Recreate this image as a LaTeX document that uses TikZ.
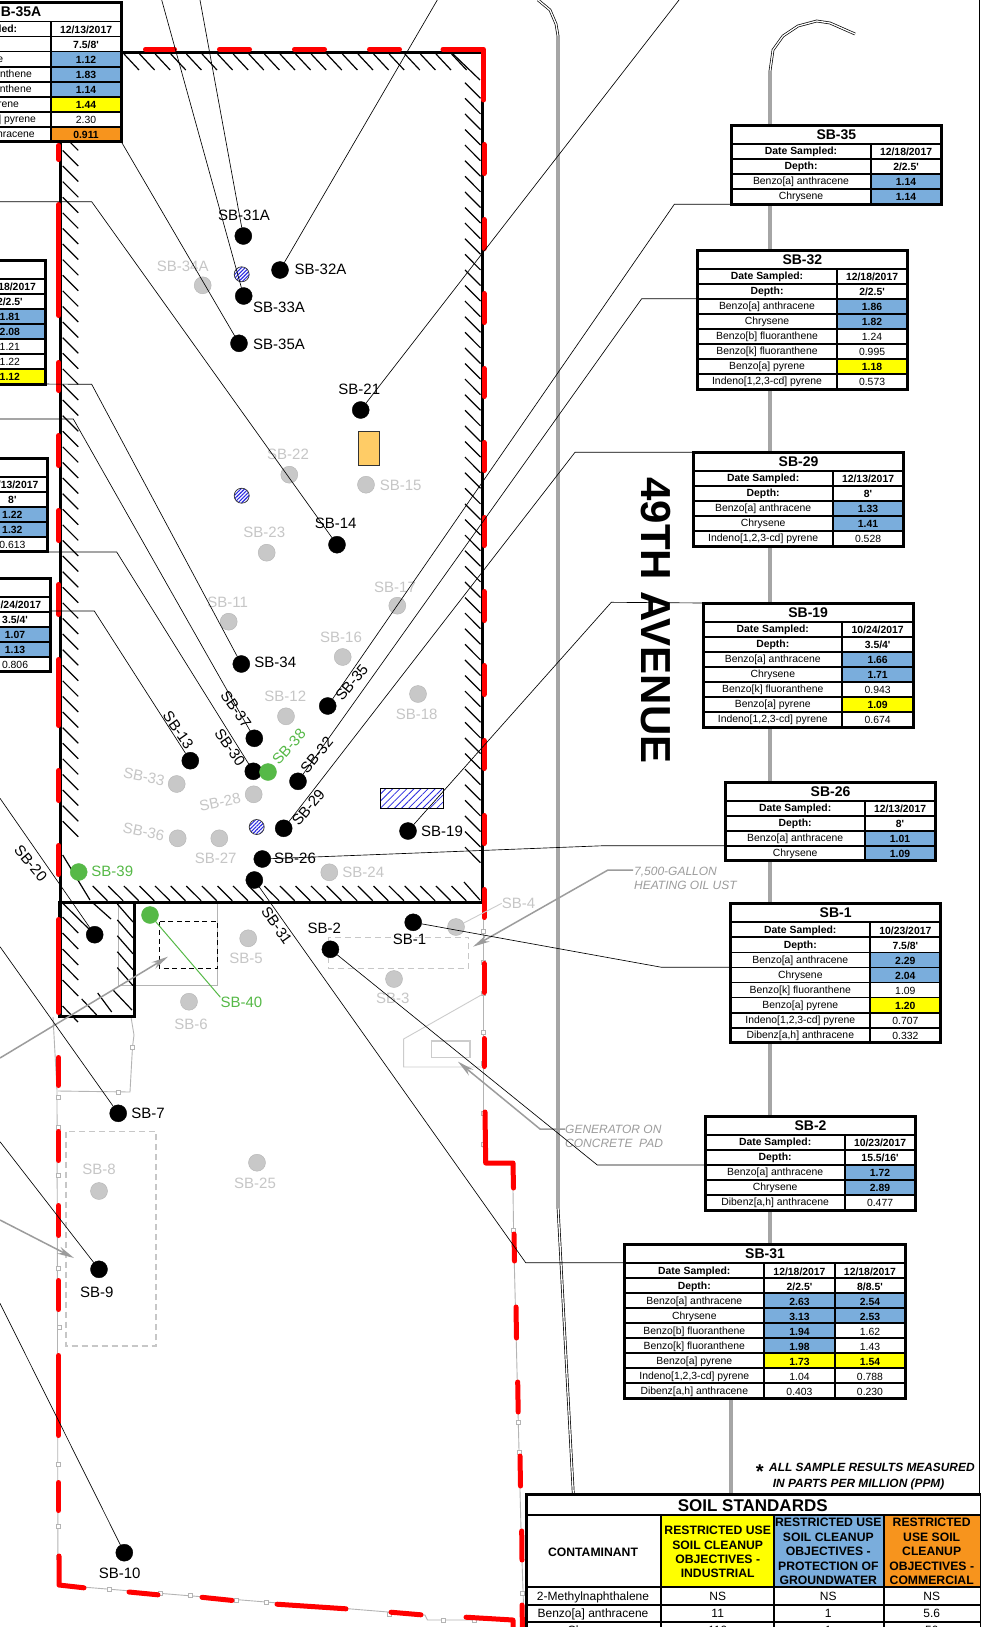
\documentclass[tikz,border=0pt]{standalone}
\usepackage{fontspec}
\setmainfont{Liberation Sans}[Ligatures=TeXOff]
\usetikzlibrary{arrows.meta,patterns.meta}
\definecolor{celld}{HTML}{FFFFFF}
\definecolor{celln}{HTML}{FFFFFF}
\definecolor{cellb}{HTML}{7AADDC}
\definecolor{celly}{HTML}{FFFF00}
\definecolor{cello}{HTML}{F7941D}
\definecolor{dotgray}{HTML}{C8C8C8}
\definecolor{txtgray}{HTML}{C6C6C6}
\definecolor{dotgreen}{HTML}{56B947}
\definecolor{notegray}{HTML}{9C9C9C}
\definecolor{fence}{HTML}{B4B4B4}
\definecolor{hatchblue}{HTML}{2A2AE0}
\definecolor{padfill}{HTML}{FFCC66}
\newcommand\ftab{\fontsize{10.4}{12}\selectfont}
\newcommand\tlabfd{\ftab\bfseries}
\newcommand\tlabfb{\ftab}
\newcommand\tlabfy{\ftab}
\newcommand\tlabfo{\ftab}
\newcommand\tlabfn{\ftab}
\newcommand\tvalfd{\ftab\bfseries}
\newcommand\tvalfb{\ftab\bfseries}
\newcommand\tvalfy{\ftab\bfseries}
\newcommand\tvalfo{\ftab\bfseries}
\newcommand\tvalfn{\ftab}
\newcommand\dsmp{Date Sampled:}
\newcommand\dpth{Depth:}
\newcommand\lBaA{Benzo[a] anthracene}
\newcommand\lChr{Chrysene}
\newcommand\lBbF{Benzo[b] fluoranthene}
\newcommand\lBkF{Benzo[k] fluoranthene}
\newcommand\lBaP{Benzo[a] pyrene}
\newcommand\lInd{Indeno[1,2,3-cd] pyrene}
\newcommand\lDib{Dibenz[a,h] anthracene}
\tikzset{
  x=1pt,y=-1pt,
  grid/.style={line width=1.8,black},
  tabframe/.style={draw=black,line width=3,rectangle,inner sep=0,outer sep=0,anchor=north west},
  celltext/.style={inner sep=0,anchor=base},
  blk/.style={circle,fill=black,draw=black,line width=.4,minimum size=17,inner sep=0,outer sep=0},
  gry/.style={circle,fill=dotgray,draw=fence,line width=.4,minimum size=17,inner sep=0,outer sep=0},
  grn/.style={circle,fill=dotgreen,draw=dotgreen,line width=.4,minimum size=17,inner sep=0,outer sep=0},
  blktxt/.style={text=black,inner sep=0,font=\fontsize{15}{17}\selectfont},
  grytxt/.style={text=txtgray,inner sep=0,font=\fontsize{15}{17}\selectfont},
  grntxt/.style={text=dotgreen,inner sep=0,font=\fontsize{15}{17}\selectfont},
  hatchdot/.style={circle,draw=black!80,line width=.7,minimum size=15,inner sep=0,outer sep=0,
    pattern={Lines[angle=45,distance=2.6,line width=1.1]},pattern color=hatchblue},
  leader/.style={draw=black,line width=.65},
  htick/.style={draw=black,line width=1.2},
  wall/.style={draw=black,line width=3.4},
  redd/.style={draw=red,line width=5,line cap=round,line join=round},
  fenceline/.style={draw=fence,line width=.9},
  fsq/.style={draw=fence,fill=white,line width=.8},
  ghostbox/.style={draw=black!22,line width=1.5,dash pattern=on 6 off 4},
  road/.style={draw=black,line width=.7,double=white,double distance=1.3},
  notearrow/.style={draw=notegray,line width=1.5,-{Stealth[length=17,width=7.5,fill=notegray]}},
  notetext/.style={text=notegray,inner sep=0,anchor=base west,font=\fontsize{12}{14}\selectfont\itshape},
  soilhead/.style={inner sep=0,align=center,font=\fontsize{12.2}{14.4}\selectfont\bfseries},
  soilcell/.style={inner sep=0,anchor=base,font=\fontsize{12}{14}\selectfont},
  ppmnote/.style={inner sep=0,anchor=base west,font=\fontsize{11.9}{14}\selectfont\bfseries\itshape},
}
\newcommand\sbtable[7]{%
  \pgfmathsetmacro\tL{#2+1.3}\pgfmathsetmacro\tR{#4-1.3}\pgfmathsetmacro\tT{#3+1.3}%
  \pgfmathsetmacro\tD{\tR-70.7}\pgfmathsetmacro\tM{(\tL+\tD)/2}%
  \pgfmathsetmacro\tV{(\tD+\tR)/2}\pgfmathsetmacro\tC{(\tL+\tR)/2}%
  \pgfmathsetmacro\tB{\tT+18.7+15.05*#5}\pgfmathsetmacro\tW{\tR-\tL}\pgfmathsetmacro\tH{\tB-\tT}%
  \fill[white] (\tL,\tT) rectangle (\tR,\tB);
  \node[celltext,font=\fontsize{14}{16}\selectfont\bfseries] (#1-title) at (\tC,\tT+14.2) {#6};
  \foreach \lab/\val/\kind [count=\i] in {#7} {
    \pgfmathsetmacro\ya{\tT+18.7+15.05*(\i-1)}\pgfmathsetmacro\yb{\ya+15.05}
    \path[fill=cell\kind] (\tD,\ya) rectangle (\tR,\yb);
    \draw[grid] (\tL,\ya) -- (\tR,\ya);
    \draw[grid] (\tL,\yb) -- (\tR,\yb);
    \node[celltext,font=\csname tlabf\kind\endcsname] (#1-l\i) at (\tM,\yb-4.3) {\lab};
    \node[celltext,font=\csname tvalf\kind\endcsname] (#1-v\i) at (\tV,\yb-3.3) {\val};
  }
  \draw[grid] (\tD,\tT+18.7) -- (\tD,\tB);
  \node[tabframe,minimum width=\tW,minimum height=\tH] (#1) at (\tL,\tT) {};
}
\newcommand\hole[8]{\node[#1] (#2) at (#3,#4) {};\node[#1txt,rotate=#7] (#2-l) at (#5,#6) {#8};}
\newcommand\fsqat[2]{\draw[fsq] (#1-2,#2-2) rectangle (#1+2,#2+2);}
\begin{document}
\begin{tikzpicture}
\useasboundingbox (0,0) rectangle (980,1627);
\fill[white] (0,0) rectangle (980,1627);
% page frame and roads
\draw[draw=black,line width=.6] (979,0) -- (979,1494);
\draw[road] (538,0) -- (550,10) -- (556,24) -- (558,36) -- (558,1207) -- (573.3,1494);
\draw[road] (855,34) -- (830,23) -- (816.7,21) -- (798,26) -- (783,36) -- (773,50) -- (770,71) -- (770,1243) -- (731,1399) -- (731,1494);
% fence
\draw[fenceline] (53,1017) -- (57,1090) -- (58,1585) -- (425,1615) -- (427.5,1620) -- (513,1620);
\draw[fenceline] (58,1091) -- (130,1092) -- (132.5,1047) -- (134,1035) -- (131,1017);
\draw[fenceline] (483.5,887) -- (483.5,1163);
\draw[fenceline] (513,1190) -- (513.6,1233) -- (514.3,1263) -- (521,1530) -- (524,1620);
\foreach \px/\py in {58/1097,58/1127,58/1175,58/1268,59/1327,58/1464,58/1526,58/1557,132.5/1047,118/1092,
  109/1589,160/1593,190/1595,236/1600,266/1602.5,389.3/1614,443/1620,474/1620,
  483.5/931,483.5/962,483.5/993,483.5/1032,483.5/1063,483.5/1113,483.5/1144,513.6/1230,518.7/1422,519.3/1452,522.7/1593}
  {\fsqat{\px}{\py}}
% ghost structures
\draw[ghostbox] (328.6,937.3) rectangle (468.6,968.3);
\draw[ghostbox] (66,1131.7) rectangle (156,1346);
\draw[draw=black!20,line width=.9] (483,994) -- (403.6,1039) -- (403.6,1067) -- (483,1067);
\draw[draw=black!20,line width=1.2] (431.4,1041) rectangle (470,1057.7);
\draw[fenceline] (118,903) -- (118,985) -- (217,985) -- (217,903);
\draw[draw=black,line width=1.4,dash pattern=on 5 off 3.5] (159.3,921.7) rectangle (217.3,968.3);
% building hatch
\foreach \k in {0,...,21} \draw[htick] (124+15.6*\k,54) -- (139+15.6*\k,70);
\draw[htick] (453,54) -- (480,80);
\foreach \k in {0,...,49} \draw[htick] (465,82.7+15.6*\k) -- (480.5,98.3+15.6*\k);
\foreach \k in {-6,...,38} \draw[htick] (62.7,244+15.6*\k-15.6) -- (78.3,244+15.6*\k);
\draw[htick] (62.7,855) -- (90,900);
\foreach \k in {0,...,23} \draw[htick] (92.7+15.6*\k,886) -- (107.5+15.6*\k,900.7);
\draw[htick] (464,882) -- (480,900);
\foreach \py in {933,949,965,980,996} \draw[htick] (62.5,\py-16) -- (78.3,\py);
\draw[htick] (62.5,1006) -- (78,1022);
\draw[htick] (62.5,903) -- (90,930);
\draw[htick] (93,903) -- (111,919);
\foreach \k in {0,...,4} \draw[htick] (117.3,904+15.9*\k) -- (133,922+15.9*\k);
\draw[htick] (113,990) -- (132,1010);
\draw[htick] (97.7,993) -- (111.7,1012);
\draw[htick] (81.7,999) -- (96.7,1015);
\draw[wall] (60.5,52.3) rectangle (482.3,902.3);
\draw[wall] (60,902.3) rectangle (134.3,1016.7);
% red site boundary
\foreach \a/\b in {143/177,217/252,292/327,367/402} \draw[redd] (\a+2.5,49.3) -- (\b-2.5,49.3);
\draw[redd] (443,49.3) -- (483.5,49.3) -- (483.5,100);
\foreach \a/\b in {142/176,217/251,291/325,366/399,440/473,515/548,589/623,663/697,738/771,813/846,887/920,961/995,1036/1069}
  \draw[redd] (484,\a+2.5) -- (484,\b-2.5);
\draw[redd] (485,1112) -- (485.7,1163) -- (513,1163) -- (513.5,1188);
\draw[redd] (514,1234) -- (514.5,1261);
\draw[redd] (516,1307) -- (516.5,1338);
\draw[redd] (517.7,1382) -- (518.2,1412);
\draw[redd] (520,1456) -- (520.5,1486);
\draw[redd] (521.7,1531) -- (522,1560);
\draw[redd] (522,1605) -- (522.5,1630);
\foreach \a/\b in {143/162,202/318,360/393,433/468,508/543,582/617,657/728,768/803,843/877,917/1015}
  \draw[redd] (58.8,\a+2.5) -- (58.8,\b-2.5);
\foreach \a/\b in {1055/1088,1129/1163,1203/1238,1278/1312,1353/1438,1480/1513}
  \draw[redd] (58.5,\a+2.5) -- (58.5,\b-2.5);
\draw[redd] (59,1556) -- (59,1585) -- (84,1587.8);
\draw[redd] (129,1592) -- (158,1594.8);
\draw[redd] (202,1597.3) -- (232,1600.4);
\draw[redd] (277,1604.2) -- (346,1608.8);
\draw[redd] (391,1612.2) -- (421,1614.8);
\draw[redd] (466,1617.2) -- (513,1620) -- (513,1630);
% site features
\node[draw=black!80,line width=1,fill=padfill,minimum width=20.7,minimum height=34,inner sep=0] (pad) at (368.7,448) {};
\node[draw=black,line width=1,minimum width=63.3,minimum height=19.7,inner sep=0,
  pattern={Lines[angle=45,distance=5,line width=.8]},pattern color=hatchblue] (hatchrect) at (411.7,798.2) {};
\node[hatchdot] (hd1) at (241.7,274.3) {};
\node[hatchdot] (hd2) at (241.7,495.7) {};
\node[hatchdot] (hd3) at (256.7,827) {};
% gray borings
\hole{gry}{sb34a}{202.7}{285.3}{182.7}{266.7}{0}{SB-34A}
\hole{gry}{sb22}{289.3}{474.7}{288}{454.3}{0}{SB-22}
\hole{gry}{sb15}{366}{484.7}{400.7}{485.3}{0}{SB-15}
\hole{gry}{sb23}{266.7}{552.7}{264.3}{532.7}{0}{SB-23}
\hole{gry}{sb11}{228.7}{621.7}{227.7}{602.7}{0}{SB-11}
\hole{gry}{sb17}{397.3}{605.7}{395}{587.7}{0}{SB-17}
\hole{gry}{sb16}{342.7}{657}{341}{637.3}{0}{SB-16}
\hole{gry}{sb12}{286}{716.3}{285.3}{696.7}{0}{SB-12}
\hole{gry}{sb18}{418}{694}{416.7}{714}{0}{SB-18}
\hole{gry}{sb33}{176.7}{784}{144}{776.7}{-12}{SB-33}
\hole{gry}{sb28}{253.7}{794.3}{220}{802}{12}{SB-28}
\hole{gry}{sb36}{177.7}{838.3}{143.7}{831.7}{-12}{SB-36}
\hole{gry}{sb27}{219.3}{838.3}{215.7}{858.7}{0}{SB-27}
\hole{gry}{sb24}{329.3}{872.3}{363.3}{872.7}{0}{SB-24}
\hole{gry}{sb5}{248.2}{938.3}{246}{958.7}{0}{SB-5}
\hole{gry}{sb6}{189}{1001.7}{191}{1024.3}{0}{SB-6}
\hole{gry}{sb3}{394}{979}{392.9}{998.3}{0}{SB-3}
\hole{gry}{sb4}{456}{927}{518.6}{903.3}{0}{SB-4}
\hole{gry}{sb8}{99}{1191}{99}{1169.7}{0}{SB-8}
\hole{gry}{sb25}{257}{1162.7}{255}{1183.3}{0}{SB-25}
% black borings
\hole{blk}{sb31a}{243.3}{236}{244}{215.3}{0}{SB-31A}
\hole{blk}{sb32a}{280}{270}{320.5}{269}{0}{SB-32A}
\hole{blk}{sb33a}{243.7}{296}{279}{307}{0}{SB-33A}
\hole{blk}{sb35a}{239}{343.3}{279}{344}{0}{SB-35A}
\hole{blk}{sb21}{360.7}{410}{359.3}{389.3}{0}{SB-21}
\hole{blk}{sb14}{337}{544.7}{335.7}{523.3}{0}{SB-14}
\hole{blk}{sb34}{241.3}{664}{275.3}{662.7}{0}{SB-34}
\hole{blk}{sb35}{327.7}{706}{351.7}{682.7}{50}{SB-35}
\hole{blk}{sb37}{254.3}{738.3}{236}{709.3}{-55}{SB-37}
\hole{blk}{sb30}{253.3}{771.3}{230}{747.3}{-55}{SB-30}
\hole{blk}{sb13}{190.3}{760.7}{178.3}{730}{-55}{SB-13}
\hole{blk}{sb32}{298}{781.3}{316.7}{755}{50}{SB-32}
\hole{blk}{sb29}{283.7}{828.3}{308.3}{807.7}{50}{SB-29}
\hole{blk}{sb19}{408}{831}{442}{831.3}{0}{SB-19}
\hole{blk}{sb26}{262.3}{859}{295}{858.7}{0}{SB-26}
\hole{blk}{sb31}{254.3}{880}{276.8}{925.7}{-55}{SB-31}
\hole{blk}{sb20}{94.7}{934.7}{30.7}{863.3}{-50}{SB-20}
\hole{blk}{sb1}{413.2}{922.3}{409.6}{939.3}{0}{SB-1}
\hole{blk}{sb2}{330.4}{949.3}{324.3}{928.3}{0}{SB-2}
\hole{blk}{sb7}{118.2}{1113.3}{148}{1113.3}{0}{SB-7}
\hole{blk}{sb9}{99}{1269.3}{96.8}{1292.3}{0}{SB-9}
\hole{blk}{sb10}{124.3}{1552.7}{119.6}{1573.3}{0}{SB-10}
% green borings
\hole{grn}{sb38}{268}{772}{289}{746.7}{48}{SB-38}
\hole{grn}{sb39}{78.7}{872}{112.3}{871.3}{0}{SB-39}
\hole{grn}{sb40}{150}{915}{241.4}{1002.7}{0}{SB-40}
\draw[draw=dotgreen,line width=1] (sb40) -- (sb40-l.north west);
\draw[draw=black!20,line width=.9] (sb4-l.west) -- (sb4);
% notes and their arrows
\node[notetext] (ustt1) at (634,875) {7,500-GALLON};
\node[notetext] (ustt2) at (634,889) {HEATING OIL UST};
\node[notetext] (gent1) at (565,1133) {GENERATOR ON};
\node[notetext] (gent2) at (565,1147) {CONCRETE\ \ PAD};
\coordinate (usttip) at (473,946.7);
\coordinate (gentip) at (458,1061.7);
\coordinate (uststart) at (633,870);
\coordinate (genstart) at (565,1129);
\draw[notearrow] (uststart) -- (608,870) -- (usttip);
\draw[notearrow] (genstart) -- (540,1129) -- (gentip);
\coordinate (arr1s) at (0,1058);
\coordinate (arr1t) at (168,956.7);
\coordinate (arr2s) at (0,1220);
\coordinate (arr2t) at (74,1258);
\draw[notearrow] (arr1s) -- (arr1t);
\draw[notearrow] (arr2s) -- (arr2t);
% road name
\node[inner sep=0,rotate=-90,font=\fontsize{42}{46}\selectfont\bfseries] (ave) at (656,620.5) {49TH AVENUE};
% left sample tables, running off the page
\sbtable{t35a}{-90}{1.5}{122.7}{8}{SB-35A}{\dsmp/{12/13/2017}/d,\dpth/{7.5/8'}/d,\lChr/1.12/b,\lBbF/1.83/b,\lBkF/1.14/b,\lBaP/1.44/y,\lInd/2.30/n,\lDib/0.911/o}
\sbtable{tlb}{-165.5}{258.7}{46.5}{7}{}{/{12/18/2017}/d,/{2/2.5'}/d,/1.81/b,/2.08/b,/1.21/n,/1.22/n,/1.12/y}
\sbtable{tlc}{-163}{456.7}{49}{5}{}{/{12/13/2017}/d,/8'/d,/1.22/b,/1.32/b,/0.613/n}
\sbtable{tld}{-160.3}{576.7}{51.7}{5}{}{/{10/24/2017}/d,/{3.5/4'}/d,/1.07/b,/1.13/b,/0.806/n}
% right sample tables
\sbtable{t35}{730}{124}{942.7}{4}{SB-35}{\dsmp/{12/18/2017}/d,\dpth/{2/2.5'}/d,\lBaA/1.14/b,\lChr/1.14/b}
\sbtable{t32}{696}{248.7}{908.7}{8}{SB-32}{\dsmp/{12/18/2017}/d,\dpth/{2/2.5'}/d,\lBaA/1.86/b,\lChr/1.82/b,\lBbF/1.24/n,\lBkF/0.995/n,\lBaP/1.18/y,\lInd/0.573/n}
\sbtable{t29}{692.3}{451}{904.7}{5}{SB-29}{\dsmp/{12/13/2017}/d,\dpth/8'/d,\lBaA/1.33/b,\lChr/1.41/b,\lInd/0.528/n}
\sbtable{t19}{702}{601.7}{914.3}{7}{SB-19}{\dsmp/{10/24/2017}/d,\dpth/{3.5/4'}/d,\lBaA/1.66/b,\lChr/1.71/b,\lBkF/0.943/n,\lBaP/1.09/y,\lInd/0.674/n}
\sbtable{t26}{724.3}{780.7}{936.7}{4}{SB-26}{\dsmp/{12/13/2017}/d,\dpth/8'/d,\lBaA/1.01/b,\lChr/1.09/b}
\sbtable{t1}{729.3}{902.3}{942}{8}{SB-1}{\dsmp/{10/23/2017}/d,\dpth/{7.5/8'}/d,\lBaA/2.29/b,\lChr/2.04/b,\lBkF/1.09/n,\lBaP/1.20/y,\lInd/0.707/n,\lDib/0.332/n}
\sbtable{t2}{704.3}{1115}{916.7}{5}{SB-2}{\dsmp/{10/23/2017}/d,\dpth/{15.5/16'}/d,\lBaA/1.72/b,\lChr/2.89/b,\lDib/0.477/n}
% SB-31 with two sample columns
\fill[white] (624.6,1244.6) rectangle (905.4,1397.7);
\node[celltext,font=\fontsize{14}{16}\selectfont\bfseries] (t31-title) at (765,1258.8) {SB-31};
\foreach \lab/\vala/\ka/\valb/\kb [count=\i] in {\dsmp/{12/18/2017}/d/{12/18/2017}/d,\dpth/{2/2.5'}/d/{8/8.5'}/d,\lBaA/2.63/b/2.54/b,\lChr/3.13/b/2.53/b,\lBbF/1.94/b/1.62/n,\lBkF/1.98/b/1.43/n,\lBaP/1.73/y/1.54/y,\lInd/1.04/n/0.788/n,\lDib/0.403/n/0.230/n} {
  \pgfmathsetmacro\ya{1263.3+15*(\i-1)}\pgfmathsetmacro\yb{\ya+15}
  \path[fill=cell\ka] (764,\ya) rectangle (835,\yb);
  \path[fill=cell\kb] (835,\ya) rectangle (905.4,\yb);
  \draw[grid] (624.6,\ya) -- (905.4,\ya);
  \draw[grid] (624.6,\yb) -- (905.4,\yb);
  \node[celltext,font=\csname tlabf\ka\endcsname] (t31-l\i) at (694.3,\yb-4.3) {\lab};
  \node[celltext,font=\csname tvalf\ka\endcsname] (t31-a\i) at (799.5,\yb-3.3) {\vala};
  \node[celltext,font=\csname tvalf\kb\endcsname] (t31-b\i) at (870,\yb-3.3) {\valb};
}
\draw[grid] (764,1263.3) -- (764,1398.3);
\draw[grid] (835,1263.3) -- (835,1398.3);
\node[tabframe,minimum width=280.8,minimum height=153.7] (t31) at (624.6,1244.6) {};
% measurement note
\node[inner sep=0,anchor=base,font=\fontsize{20}{22}\selectfont\bfseries\itshape] (ppmstar) at (759,1478) {*};
\node[ppmnote] (ppm1) at (769,1471.7) {ALL SAMPLE RESULTS MEASURED};
\node[ppmnote] (ppm2) at (772.7,1487) {IN PARTS PER MILLION (PPM)};
% soil standards table
\fill[white] (526.5,1494.5) rectangle (981,1640);
\fill[celly] (661.3,1515) rectangle (774,1587.3);
\fill[cellb] (774,1515) rectangle (884,1587.3);
\fill[cello] (884,1515) rectangle (981,1587.3);
\node[inner sep=0,anchor=base,font=\fontsize{17}{19}\selectfont\bfseries] (soiltitle) at (752.7,1511) {SOIL STANDARDS};
\node[soilhead] (hcont) at (593,1552) {CONTAMINANT};
\node[soilhead] (hind) at (717.7,1552) {RESTRICTED USE\\SOIL CLEANUP\\OBJECTIVES -\\INDUSTRIAL};
\node[soilhead] (hgw) at (828.3,1551.5) {RESTRICTED USE\\SOIL CLEANUP\\OBJECTIVES -\\PROTECTION OF\\GROUNDWATER};
\node[soilhead] (hcom) at (931.7,1551.5) {RESTRICTED\\USE SOIL\\CLEANUP\\OBJECTIVES -\\COMMERCIAL};
\draw[grid] (526.5,1515) -- (981,1515);
\draw[grid] (526.5,1587.3) -- (981,1587.3);
\draw[grid] (526.5,1605) -- (981,1605);
\draw[grid] (526.5,1622.3) -- (981,1622.3);
\foreach \cx in {661.3,774,884} \draw[grid] (\cx,1515) -- (\cx,1640);
\foreach \rb/\lab/\va/\vb/\vc [count=\i] in {1600.5/2-Methylnaphthalene/NS/NS/NS,1617/\lBaA/11/1/5.6,1634/\lChr/110/1/56} {
  \node[soilcell] (sr\i-l) at (593,\rb) {\lab};
  \node[soilcell] (sr\i-a) at (717.7,\rb) {\va};
  \node[soilcell] (sr\i-b) at (828.3,\rb) {\vb};
  \node[soilcell] (sr\i-c) at (931.7,\rb) {\vc};
}
\draw[draw=black,line width=3] (526.5,1640) -- (526.5,1494.5) -- (981,1494.5) -- (981,1640);
% leaders
\coordinate (top31a) at (200,0);
\coordinate (top33a) at (161.7,0);
\coordinate (top32a) at (437.3,0);
\coordinate (top21) at (679,0);
\coordinate (left14) at (0,201.7);
\coordinate (left37) at (0,419);
\coordinate (left20) at (0,798.3);
\coordinate (left7) at (0,946.7);
\coordinate (left9) at (0,1141.7);
\coordinate (left10) at (0,1303.3);
\draw[leader] (top31a) -- (sb31a);
\draw[leader] (top33a) -- (sb33a);
\draw[leader] (top32a) -- (sb32a);
\draw[leader] (top21) -- (sb21);
\draw[leader] (left14) -- (91.7,201.7) -- (sb14);
\draw[leader] (left37) -- (73.3,419) -- (sb37);
\draw[leader] (left20) -- (sb20);
\draw[leader] (left7) -- (sb7);
\draw[leader] (left9) -- (sb9);
\draw[leader] (left10) -- (sb10);
\draw[leader] (t35a.south east) -- (sb35a);
\draw[leader] (tlb.south east) -- (91.7,384.3) -- (sb34);
\draw[leader] (tlc.south east) -- (116.7,552) -- (sb30);
\draw[leader] (tld.east |- 0,611) -- (94.3,611) -- (sb13);
\draw[leader] (t35.west |- 0,204.3) -- (674.3,204.3) -- (sb35);
\draw[leader] (t32.west |- 0,298.7) -- (641.7,298.7) -- (sb32);
\draw[leader] (t29.north west) -- (575,452.3) -- (sb29);
\draw[leader] (t19.north west) -- (611.3,602.3) -- (sb19);
\draw[leader] (t26.west |- 0,845.7) -- (604,845.7) -- (sb26);
\draw[leader] (t1.west |- 0,967.3) -- (661.7,967.3) -- (sb1);
\draw[leader] (t2.west |- 0,1165) -- (597.3,1165) -- (sb2);
\draw[leader] (t31.west |- 0,1262.7) -- (525.7,1262.7) -- (sb31);
\end{tikzpicture}
\end{document}
